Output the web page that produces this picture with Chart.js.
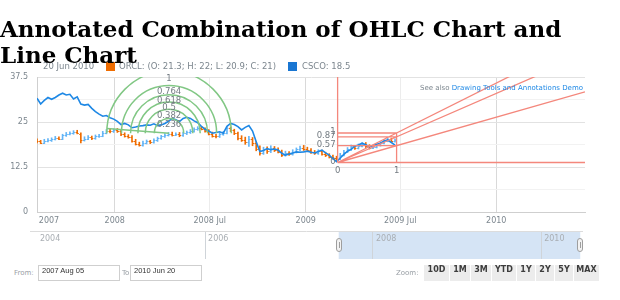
<!DOCTYPE html>
<html><head><meta charset="utf-8">
<script src="https://cdn.jsdelivr.net/npm/chart.js@4.4.1/dist/chart.umd.min.js"></script>
<style>
html,body{margin:0;padding:0;background:#fff;}
#wrap{position:relative;width:620px;height:300px;overflow:hidden;font-family:'DejaVu Sans',sans-serif;}
#title{position:absolute;left:0;top:16px;width:590px;margin:0;font:bold 23px/26px 'DejaVu Serif',serif;color:#000;z-index:5;}
#main{position:absolute;left:0;top:0;}
#scroll{position:absolute;left:0;top:226px;}
.lg{position:absolute;top:61px;height:11px;line-height:11px;font-size:8.5px;color:#7c868e;white-space:nowrap;}
.sq{position:absolute;top:62px;width:9px;height:9px;}
#seealso{position:absolute;right:37px;top:83px;font-size:7px;line-height:10px;color:#7c868e;white-space:nowrap;}
#seealso a{color:#1e88e5;text-decoration:none;}
.rs{position:absolute;top:265px;height:16px;line-height:16px;font-size:7px;color:#9aa0a6;white-space:nowrap;}
.inp{position:absolute;top:265px;height:14px;line-height:14px;border:1px solid #cfcfcf;background:#fff;font:7.5px 'Liberation Sans',sans-serif;color:#333;padding-left:3px;box-sizing:content-box;}
#btns{position:absolute;left:424px;top:265px;display:flex;gap:1px;}
#btns span{display:block;height:16px;line-height:16px;background:#ececec;font:bold 8px 'DejaVu Sans',sans-serif;color:#3d3d3d;text-align:center;}
</style></head>
<body><div id="wrap">
<canvas id="main" width="620" height="232"></canvas>
<canvas id="scroll" width="620" height="36"></canvas>
<div id="title">Annotated Combination of OHLC Chart and Line Chart</div>
<div class="lg" style="left:43px">20 Jun 2010</div>
<div class="sq" style="left:106px;background:#ef6c00"></div>
<div class="lg" style="left:119px">ORCL: (O: 21.3; H: 22; L: 20.9; C: 21)</div>
<div class="sq" style="left:288px;background:#1976d2"></div>
<div class="lg" style="left:302px">CSCO: 18.5</div>
<div id="seealso">See also <a href="#">Drawing Tools and Annotations Demo</a></div>
<div class="rs" style="left:14px">From:</div>
<div class="inp" style="left:38px;width:77px">2007 Aug 05</div>
<div class="rs" style="left:122px">To:</div>
<div class="inp" style="left:130px;width:67px">2010 Jun 20</div>
<div class="rs" style="left:396px">Zoom:</div>
<div id="btns"><span style="width:25px">10D</span><span style="width:20px">1M</span><span style="width:20px">3M</span><span style="width:24px">YTD</span><span style="width:18px">1Y</span><span style="width:18px">2Y</span><span style="width:18px">5Y</span><span style="width:25px">MAX</span></div>
</div>
<script>
// ---------- data ----------
const firstWeek = '2007-08-05';           // weekly points start here
const viewStart = '2007-08-05';
const viewEnd = '2010-06-20';
const cscoValues = [31.6,30.0,31.0,31.8,31.3,31.8,32.5,33.0,32.5,32.7, 31.4,32.0,30.0,29.7,29.9,28.8,27.9,27.2,26.6,26.8,
  26.2,25.8,25.2,24.3,24.6,24.2,23.4,23.6,23.9,24.0, 24.2,24.1,24.5,24.0,24.2,24.6,25.2,26.0,25.6,25.1,
  26.0,26.3,26.0,25.3,24.8,23.8,23.0,22.5,21.9,22.1, 22.3,21.9,23.8,24.6,24.3,23.7,22.8,23.5,24.0,22.5,
  19.5,16.8,17.1,17.6,17.3,17.5,17.2,16.3,15.8,16.1, 16.4,16.7,16.6,16.7,16.9,16.6,16.4,16.8,17.2,16.4,
  15.8,14.8,14.0,15.0,16.0,16.9,17.4,18.3,18.6,19.1, 18.7,18.1,18.5,18.8,19.1,19.7,20.0,19.3,18.6];
const orclOpen = [19.9,19.6,19.3,19.8,19.9,20.3,20.6,20.4,21.3,21.7, 21.9,22.3,21.8,20.0,20.4,20.8,20.5,21.0,21.2,22.0,
  22.6,22.4,22.8,22.5,21.6,21.2,20.9,19.8,19.0,18.7, 19.3,19.6,19.4,19.9,20.5,21.0,21.4,21.8,21.5,21.7,
  21.3,21.9,22.1,22.6,23.0,23.4,23.1,22.6,21.8,21.2, 21.0,21.6,22.0,23.2,22.7,21.9,20.6,20.1,19.4,20.3,
  19.2,17.6,16.5,17.4,17.0,17.8,17.3,16.8,15.9,16.4, 16.1,16.8,17.4,17.9,17.6,17.2,16.7,16.4,16.9,16.2,
  15.8,15.4,15.1,14.8,15.9,16.8,17.5,18.2,17.8,18.4, 18.9,18.3,17.9,18.1,18.6,19.2,19.8,20.2,19.7];
const orclHigh = [20.3,19.9,20.2,20.4,20.6,21.0,20.9,21.6,22.1,22.3, 22.6,22.7,22.0,20.9,21.2,21.1,21.4,21.6,22.4,22.9,
  23.0,23.1,23.2,22.8,22.0,21.5,21.2,20.2,19.4,19.7, 20.0,19.9,20.3,20.8,21.3,21.8,22.1,22.2,22.0,22.1,
  22.2,22.5,22.9,23.4,23.7,23.8,23.4,22.9,22.2,21.6, 22.0,22.4,23.5,23.6,23.0,22.2,21.2,20.8,21.0,20.7,
  19.6,18.4,18.0,18.1,18.4,18.2,17.8,17.2,16.9,16.8, 17.3,17.8,18.3,18.5,18.0,17.6,17.1,17.3,17.2,16.6,
  16.2,15.8,15.5,16.3,17.1,17.9,18.6,18.5,18.9,19.2, 19.3,18.7,18.5,18.9,19.5,20.1,20.6,20.5,20.3];
const orclLow = [19.2,19.0,19.0,19.5,19.6,20.0,20.1,20.1,21.0,21.4, 21.6,21.7,19.2,19.7,20.1,20.1,20.2,20.7,20.9,21.7,
  22.0,22.1,22.1,21.2,20.8,20.5,19.4,18.6,18.3,18.3, 18.9,19.0,19.1,19.6,20.2,20.7,21.1,21.1,21.2,20.9,
  21.0,21.5,21.8,22.2,22.7,22.8,22.2,21.4,20.8,20.6, 20.7,21.3,21.7,22.3,21.5,20.0,19.6,18.8,18.2,18.4,
  17.0,15.8,16.0,16.3,16.5,16.8,16.4,15.4,15.5,15.7, 15.8,16.4,17.0,17.1,16.8,16.3,16.0,16.0,15.8,15.4,
  15.0,14.7,14.4,14.5,15.6,16.5,17.1,17.4,17.5,18.1, 17.9,17.5,17.6,17.8,18.3,18.9,19.5,19.3,19.4];
const orclClose = [19.6,19.3,19.8,19.9,20.3,20.6,20.4,21.3,21.7,21.9, 22.3,22.0,20.0,20.4,20.8,20.5,21.0,21.2,22.0,22.6,
  22.4,22.8,22.5,21.6,21.2,20.9,19.8,19.0,18.7,19.3, 19.6,19.4,19.9,20.5,21.0,21.4,21.8,21.5,21.7,21.3,
  21.9,22.1,22.6,23.0,23.4,23.1,22.6,21.8,21.2,21.0, 21.6,22.0,23.2,22.7,21.9,20.6,20.1,19.4,20.3,19.2,
  17.6,16.5,17.4,17.0,17.8,17.3,16.8,15.9,16.4,16.1, 16.8,17.4,17.9,17.6,17.2,16.7,16.4,16.9,16.2,15.8,
  15.4,15.1,14.8,15.9,16.8,17.5,18.2,17.8,18.4,18.9, 18.3,17.9,18.1,18.6,19.2,19.8,20.2,19.7,19.9];
const xTickDates = ['2007-08-28','2008-01-01','2008-07-01','2009-01-01','2009-07-01','2010-01-01'];
const xTickLabels = ['2007','2008','2008 Jul','2009','2009 Jul','2010'];
// annotations
const fibArcPoints = [['2007-12-17', 23.2], ['2008-04-14', 21.9]];
const fibArcLevels = [0.236, 0.382, 0.5, 0.618, 0.764, 1];
const fibFanPoints = [['2009-03-03', 13.75], ['2009-06-24', 21.95]];
const fibFanLevels = [0, 0.57, 0.87, 1];
// scroller
const scrollStart = '2003-12-02';
const scrollEnd = '2010-07-02';
const scrollTickDates = ['2004-01-01','2006-01-01','2008-01-01','2010-01-01'];
const scrollTickLabels = ['2004','2006','2008','2010'];

// ---------- helpers / styles ----------
const DAY = 86400000;
function d(s){ const p = s.split('-').map(Number); return Date.UTC(p[0], p[1]-1, p[2]) / DAY; }
const dates = cscoValues.map((_, i) => d(firstWeek) + 7 * i);
const upColor = '#64b5f6', downColor = '#ef6c00', cscoColor = '#1e88e5';
const axisText = '#7c868e';
const FONT = "'DejaVu Sans', sans-serif";

const ohlcTicks = {
  id: 'ohlcTicks',
  afterDatasetDraw(chart, args) {
    if (args.index !== 0) return;
    const {ctx, chartArea: a} = chart, x = chart.scales.x, y = chart.scales.y;
    ctx.save();
    ctx.beginPath(); ctx.rect(a.left, a.top, a.right - a.left, a.bottom - a.top); ctx.clip();
    ctx.lineWidth = 1;
    dates.forEach((dt, i) => {
      const px = x.getPixelForValue(dt);
      ctx.strokeStyle = orclClose[i] >= orclOpen[i] ? upColor : downColor;
      const yo = Math.round(y.getPixelForValue(orclOpen[i])) + 0.5;
      const yc = Math.round(y.getPixelForValue(orclClose[i])) + 0.5;
      ctx.beginPath();
      ctx.moveTo(px - 1.6, yo); ctx.lineTo(px, yo);
      ctx.moveTo(px, yc); ctx.lineTo(px + 1.6, yc);
      ctx.stroke();
    });
    ctx.restore();
  }
};

const annotations = {
  id: 'annotations',
  afterDatasetsDraw(chart) {
    const {ctx, chartArea: a} = chart, x = chart.scales.x, y = chart.scales.y;
    ctx.save();
    ctx.beginPath(); ctx.rect(a.left, a.top, a.right - a.left, a.bottom - a.top); ctx.clip();
    // Fibonacci arc
    const p1 = {x: x.getPixelForValue(d(fibArcPoints[0][0])), y: y.getPixelForValue(fibArcPoints[0][1])};
    const p2 = {x: x.getPixelForValue(d(fibArcPoints[1][0])), y: y.getPixelForValue(fibArcPoints[1][1])};
    const R = Math.hypot(p2.x - p1.x, p2.y - p1.y);
    ctx.strokeStyle = '#81c784'; ctx.lineWidth = 1.5;
    ctx.beginPath(); ctx.moveTo(p1.x, p1.y); ctx.lineTo(p2.x, p2.y); ctx.stroke();
    fibArcLevels.forEach(l => {
      ctx.beginPath(); ctx.arc(p2.x, p2.y, R * l, Math.PI, 2 * Math.PI); ctx.stroke();
    });
    // Fibonacci fan
    const A = {x: x.getPixelForValue(d(fibFanPoints[0][0])), y: y.getPixelForValue(fibFanPoints[0][1])};
    const B = {x: x.getPixelForValue(d(fibFanPoints[1][0])), y: y.getPixelForValue(fibFanPoints[1][1])};
    ctx.strokeStyle = '#f4877c'; ctx.lineWidth = 1.3;
    ctx.beginPath();
    ctx.moveTo(A.x, A.y); ctx.lineTo(A.x, a.top);
    ctx.moveTo(B.x, B.y); ctx.lineTo(B.x, A.y);
    fibFanLevels.forEach(l => {
      const yl = A.y + l * (B.y - A.y);
      ctx.moveTo(A.x, yl); ctx.lineTo(B.x, yl);
      const yr = A.y + (yl - A.y) * (a.right - A.x) / (B.x - A.x);
      ctx.moveTo(A.x, A.y); ctx.lineTo(a.right, yr);
    });
    ctx.stroke();
    ctx.restore();
    // labels (not clipped)
    ctx.save();
    ctx.font = '8.5px ' + FONT;
    ctx.fillStyle = '#737b82'; ctx.textAlign = 'center'; ctx.textBaseline = 'middle';
    fibArcLevels.forEach(l => ctx.fillText(String(l), p2.x, Math.max(p2.y - R * l + 6, a.top + 2)));
    ctx.textAlign = 'right';
    fibFanLevels.forEach(l => ctx.fillText(String(l), A.x - 2, A.y + l * (B.y - A.y) - 1));
    ctx.textAlign = 'center';
    ctx.fillText('0', A.x, A.y + 8);
    ctx.fillText('1', B.x, A.y + 8);
    ctx.restore();
  }
};

new Chart(document.getElementById('main'), {
  type: 'line',
  data: {
    datasets: [
      { type: 'bar', label: 'ORCL', order: 2, grouped: false, barThickness: 1,
        data: dates.map((v, i) => ({x: v, y: [orclLow[i], orclHigh[i]]})),
        backgroundColor: dates.map((_, i) => orclClose[i] >= orclOpen[i] ? upColor : downColor) },
      { type: 'line', label: 'CSCO', order: 1,
        data: dates.map((v, i) => ({x: v, y: cscoValues[i]})),
        borderColor: cscoColor, borderWidth: 1.6, pointRadius: 0, tension: 0 }
    ]
  },
  options: {
    responsive: false, animation: false, devicePixelRatio: 1,
    layout: { padding: { left: 0, right: 35, top: 77, bottom: 0 } },
    plugins: { legend: { display: false }, tooltip: { enabled: false } },
    scales: {
      x: {
        type: 'linear', min: d(viewStart), max: d(viewEnd), offset: false,
        afterBuildTicks: s => { s.ticks = xTickDates.map(t => ({value: d(t)})); },
        afterFit: s => { s.height = 20; },
        ticks: { callback: (v, i) => xTickLabels[i], autoSkip: false, maxRotation: 0, color: axisText, font: {family: FONT, size: 8}, padding: 4 },
        grid: { offset: false, drawTicks: false, color: c => c.index === 0 ? 'rgba(0,0,0,0)' : (xTickLabels[c.index] || '').indexOf('Jul') >= 0 ? '#ececec' : '#d9d9d9' },
        border: { color: '#cfcfcf' }
      },
      y: {
        min: 0, max: 37.5,
        afterFit: s => { s.width = 37; },
        ticks: { stepSize: 3.125, maxTicksLimit: 20, callback: v => (v % 12.5 === 0 ? v : ''), color: axisText, font: {family: FONT, size: 8}, padding: 9 },
        grid: { drawTicks: false, color: c => (c.tick && c.tick.value % 12.5 === 0) ? '#e2e2e2' : '#f2f2f2' },
        border: { color: '#cfcfcf' }
      }
    }
  },
  plugins: [ohlcTicks, annotations]
});

const scroller = {
  id: 'scroller',
  beforeDraw(chart) {
    const {ctx, chartArea: a} = chart, x = chart.scales.x;
    const l = x.getPixelForValue(d(viewStart)), r = x.getPixelForValue(d(viewEnd));
    ctx.save();
    ctx.fillStyle = '#d5e4f5';
    ctx.fillRect(l, a.top, r - l, a.bottom - a.top);
    ctx.restore();
  },
  afterDraw(chart) {
    const {ctx, chartArea: a} = chart, x = chart.scales.x;
    ctx.save();
    ctx.strokeStyle = '#dcdcdc'; ctx.lineWidth = 1;
    ctx.beginPath(); ctx.moveTo(a.left, a.top + 0.5); ctx.lineTo(a.right, a.top + 0.5); ctx.stroke();
    ctx.fillStyle = '#a9aeb3'; ctx.font = '8px ' + FONT; ctx.textAlign = 'left'; ctx.textBaseline = 'top';
    scrollTickDates.forEach((t, i) => ctx.fillText(scrollTickLabels[i], x.getPixelForValue(d(t)) + 3, a.top + 4));
    [d(viewStart), d(viewEnd)].forEach(v => {
      const px = Math.round(x.getPixelForValue(v));
      const cy = (a.top + a.bottom) / 2;
      ctx.fillStyle = '#f2f2f2'; ctx.strokeStyle = '#9e9e9e';
      ctx.beginPath();
      if (ctx.roundRect) ctx.roundRect(px - 2.5, cy - 6.5, 5, 13, 2.5); else ctx.rect(px - 2.5, cy - 6.5, 5, 13);
      ctx.fill(); ctx.stroke();
      ctx.beginPath(); ctx.moveTo(px + 0.5, cy - 3); ctx.lineTo(px + 0.5, cy + 3); ctx.stroke();
    });
    ctx.restore();
  }
};

new Chart(document.getElementById('scroll'), {
  type: 'line',
  data: { datasets: [] },
  options: {
    responsive: false, animation: false, devicePixelRatio: 1,
    layout: { padding: { left: 30, right: 37, top: 5, bottom: 3 } },
    plugins: { legend: { display: false }, tooltip: { enabled: false } },
    scales: {
      x: {
        type: 'linear', min: d(scrollStart), max: d(scrollEnd),
        afterBuildTicks: s => { s.ticks = scrollTickDates.map(t => ({value: d(t)})); },
        afterFit: s => { s.height = 0; },
        ticks: { display: false },
        grid: { drawTicks: false, color: c => c.index === 0 ? 'rgba(0,0,0,0)' : '#cfd4d9' },
        border: { display: false }
      },
      y: { display: false, min: 0, max: 1 }
    }
  },
  plugins: [scroller]
});
</script>
</body></html>
